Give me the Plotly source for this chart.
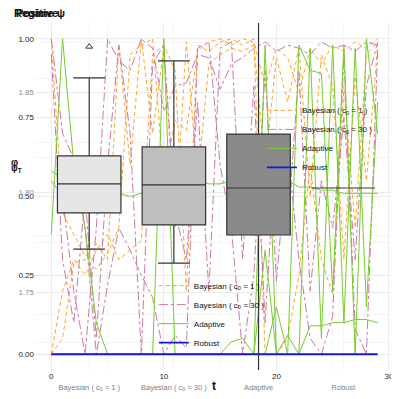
import plotly.graph_objects as go

# ---- data ----
t = list(range(30))

methods = ['Bayesian ( c<sub>0</sub> = 1 )', 'Bayesian ( c<sub>0</sub> = 30 )', 'Adaptive', 'Robust']
colors = ['#FFA526', '#CC79A7', '#77CC2E', '#1515E6']
dashes = ['4px,3px', 'dashdot', 'solid', 'solid']

bayes1_runs = [
    [0.00, 0.05, 0.29, 0.30, 0.27, 0.32, 0.40, 0.95, 0.98, 1.00, 0.55, 0.74, 0.71, 0.96, 0.99,
     1.00, 0.98, 1.00, 0.99, 0.85, 0.97, 0.94, 0.83, 0.97, 0.92, 0.98, 0.96, 0.99, 0.97, 1.00],
    [0.00, 0.20, 0.30, 0.25, 0.33, 0.38, 0.30, 0.33, 0.36, 0.95, 0.98, 0.90, 0.20, 0.98, 0.96,
     0.99, 1.00, 0.98, 1.00, 0.00, 0.00, 0.05, 0.25, 0.60, 0.30, 0.19, 0.85, 0.40, 0.95, 0.99],
    [1.00, 0.45, 0.38, 0.31, 0.35, 0.30, 0.98, 0.60, 1.00, 0.70, 0.97, 0.40, 0.99, 0.55, 0.92,
     0.95, 0.97, 0.96, 0.98, 0.60, 0.94, 0.80, 0.97, 0.50, 0.95, 0.85, 0.30, 0.88, 0.55, 0.98],
]
bayes30_runs = [
    [0.55, 0.50, 0.20, 0.00, 0.40, 1.00, 0.93, 0.90, 1.00, 0.97, 0.77, 0.85, 0.86, 0.95, 0.94,
     0.84, 0.92, 0.94, 0.97, 0.99, 0.96, 0.98, 0.97, 0.95, 0.99, 0.97, 0.98, 0.96, 0.99, 0.98],
    [1.00, 0.70, 0.62, 0.40, 0.00, 0.22, 0.40, 0.33, 0.25, 0.18, 0.00, 0.06, 0.02, 0.97, 0.99,
     0.60, 0.40, 0.00, 0.25, 0.90, 0.23, 0.65, 0.30, 0.05, 0.00, 0.12, 0.95, 0.08, 0.00, 0.97],
    [0.95, 0.30, 0.10, 0.50, 0.05, 0.60, 0.98, 0.70, 0.00, 0.92, 0.98, 0.45, 0.30, 0.80, 0.20,
     0.97, 0.99, 0.30, 0.85, 0.10, 0.70, 0.40, 0.90, 0.20, 0.55, 0.40, 0.75, 0.30, 0.85, 0.99],
]
adaptive_runs = [
    [0.38, 1.00, 0.60, 0.40, 0.10, 0.00, 0.00, 0.00, 0.00, 0.00, 0.00, 0.00, 0.00, 0.00, 0.00,
     0.00, 0.04, 0.05, 0.00, 0.33, 0.00, 0.06, 0.00, 0.09, 0.09, 0.10, 0.10, 0.11, 0.11, 0.10],
    [0.00, 0.00, 0.00, 0.00, 0.00, 0.00, 0.00, 0.00, 0.00, 0.00, 1.00, 0.00, 0.00, 0.00, 0.00,
     0.00, 0.00, 0.00, 0.00, 0.00, 0.15, 0.00, 0.98, 0.90, 0.89, 0.20, 0.98, 0.00, 1.00, 0.70],
    [0.00, 0.00, 0.00, 0.00, 0.00, 0.00, 0.00, 0.00, 0.00, 0.00, 0.00, 0.00, 0.00, 0.00, 0.00,
     0.00, 0.00, 0.00, 0.00, 0.98, 0.00, 0.00, 0.00, 0.97, 0.05, 0.98, 0.10, 0.97, 0.15, 0.80],
    [0.58, 0.56, 0.54, 0.53, 0.52, 0.51, 0.51, 0.50, 0.51, 0.52, 0.53, 0.54, 0.55, 0.55, 0.54,
     0.54, 0.55, 0.56, 0.55, 0.55, 0.54, 0.55, 0.53, 0.53, 0.52, 0.52, 0.51, 0.51, 0.51, 0.51],
]
robust_runs = [[0.0] * 30]

# boxplot summary (psi_T per method)
box_pos = [0, 1, 2, 3]
box_labels = ['Bayesian ( c<sub>0</sub> = 1 )', 'Bayesian ( c<sub>0</sub> = 30 )', 'Adaptive', 'Robust']
box_q1 = [0.448, 0.410, 0.378, 0.527]
box_med = [0.540, 0.537, 0.527, 0.527]
box_q3 = [0.629, 0.657, 0.698, 0.527]
box_lo = [0.333, 0.289, -0.07, 0.527]
box_hi = [0.876, 0.930, 1.06, 0.527]
box_fill = ['#E6E6E6', '#BEBEBE', '#8A8A8A', '#595959']
outlier_pos = [0]
outlier_val = [0.975]

font = 'Liberation Sans'
fig = go.Figure()

all_runs = [bayes1_runs, bayes30_runs, adaptive_runs, robust_runs]
for i, runs in enumerate(all_runs):
    for j, run in enumerate(runs):
        fig.add_trace(go.Scatter(
            x=t, y=run, mode='lines', name=methods[i], legendgroup=methods[i],
            showlegend=(j == 0),
            line=dict(color=colors[i], dash=dashes[i], width=1.8 if i == 3 else 1),
        ))

# second copy of the legend
for i in range(4):
    fig.add_trace(go.Scatter(
        x=[None], y=[None], mode='lines', name=methods[i], legend='legend2',
        line=dict(color=colors[i], dash=dashes[i], width=1.8 if i == 3 else 1),
    ))

# placeholder so the second y axis is drawn
fig.add_trace(go.Scatter(x=[None], y=[None], yaxis='y2', showlegend=False))

for k in range(4):
    fig.add_trace(go.Box(
        x=[box_pos[k]], q1=[box_q1[k]], median=[box_med[k]], q3=[box_q3[k]],
        lowerfence=[box_lo[k]], upperfence=[box_hi[k]],
        xaxis='x2', yaxis='y', width=0.75, fillcolor=box_fill[k],
        line=dict(color='#333333', width=1.2), showlegend=False,
    ))

fig.add_trace(go.Scatter(
    x=outlier_pos, y=outlier_val, xaxis='x2', yaxis='y', mode='markers', showlegend=False,
    marker=dict(symbol='triangle-up-open', size=6, color='#333333', line=dict(width=1)),
))

grid = '#EBEBEB'
minor_grid = '#F5F5F5'

# the page body adds an 8px offset, so the figure is 8px smaller than the window
fig.update_layout(
    width=391, height=391,
    margin=dict(l=27, r=5, t=15, b=29, autoexpand=False),
    plot_bgcolor='white', paper_bgcolor='white',
    font=dict(family=font, size=8, color='#222222'),
    xaxis=dict(range=[-1.45, 30.45], tickvals=[0, 10, 20, 30], showgrid=True, gridcolor=grid,
               zeroline=False, ticks='', tickfont=dict(size=8, color='#1A1A1A'), automargin=False,
               minor=dict(tickvals=[5, 15, 25], showgrid=True, gridcolor=minor_grid)),
    xaxis2=dict(overlaying='x', anchor='y', side='bottom', range=[-0.64, 3.60],
                tickvals=box_pos, ticktext=box_labels, showgrid=True, gridcolor=minor_grid,
                zeroline=False, ticks='', ticklabelstandoff=11, automargin=False,
                tickfont=dict(size=7.5, color='#7F7F7F')),
    yaxis=dict(range=[-0.05, 1.05], tickvals=[0, 0.25, 0.5, 0.75, 1.0],
               ticktext=['0.00', '0.25', '0.50', '0.75', '1.00'], showgrid=True, gridcolor=grid,
               zeroline=False, ticks='', tickfont=dict(size=8, color='#1A1A1A'), automargin=False,
               minor=dict(tickvals=[0.125, 0.375, 0.625, 0.875], showgrid=True, gridcolor=minor_grid)),
    yaxis2=dict(overlaying='y', anchor='x', side='left', range=[1.711, 1.8845],
                tickvals=[1.75, 1.80, 1.85], ticktext=['1.75', '1.80', '1.85'],
                showgrid=True, gridcolor=grid, zeroline=False, ticks='', automargin=False,
                tickfont=dict(size=8, color='#8C8C8C'),
                minor=dict(tickvals=[1.725, 1.775, 1.825, 1.875], showgrid=True, gridcolor=minor_grid)),
    legend=dict(x=0.632, y=0.79, xanchor='left', yanchor='top', bgcolor='rgba(0,0,0,0)',
                font=dict(size=8, color='#111111'), traceorder='normal'),
    legend2=dict(x=0.331, y=0.285, xanchor='left', yanchor='top', bgcolor='rgba(0,0,0,0)',
                 font=dict(size=8, color='#111111'), traceorder='normal'),
    showlegend=True,
)

annos = [
    dict(text='<b>Regime ψ</b>', px=12, py=386, size=11),
    dict(text='<b>Positive</b>', px=14, py=386, size=11),
    dict(text='<b>φ</b>', px=9, py=237, size=10),
    dict(text='<b>ψ<sub>T</sub></b>', px=9, py=231, size=9),
    dict(text='<b>t</b>', px=210, py=13, size=12),
]
for a in annos:
    fig.add_annotation(text=a['text'], x=(a['px'] - 35) / 359, y=(a['py'] - 29) / 347,
                       xref='paper', yref='paper', xanchor='left', yanchor='middle',
                       showarrow=False, font=dict(size=a['size'], color='#111111', family=font))

fig.write_html('out.html')
